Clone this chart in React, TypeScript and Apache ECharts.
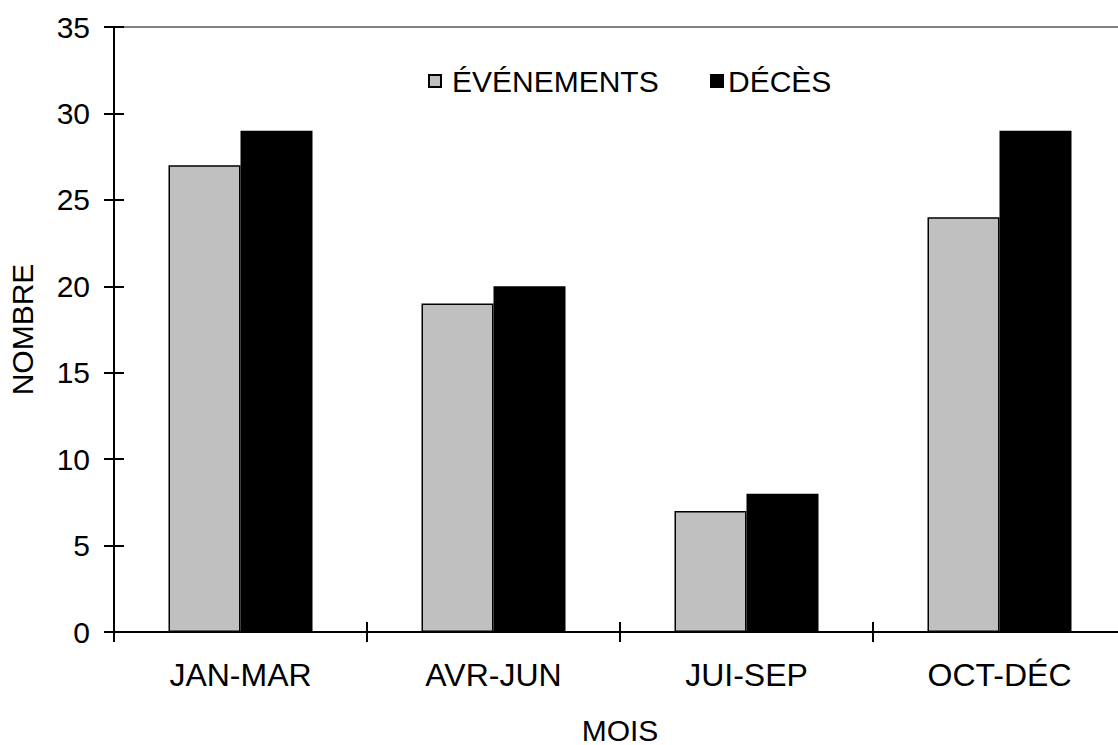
import React, { useEffect, useRef } from "react";
import * as echarts from "echarts";

const categories = ["JAN-MAR", "AVR-JUN", "JUI-SEP", "OCT-DÉC"];
const evenements = [27, 19, 7, 24];
const deces = [29, 20, 8, 29];
const seriesNames = ["ÉVÉNEMENTS", "DÉCÈS"];
const yMin = 0;
const yMax = 35;
const yStep = 5;

const FONT = "'Liberation Sans', Arial, sans-serif";

export default function App() {
  const ref = useRef<HTMLDivElement>(null);
  useEffect(() => {
    document.documentElement.style.overflow = "hidden";
    document.body.style.overflow = "hidden";
    document.body.style.margin = "0";
    if (!ref.current) return;
    const chart = echarts.init(ref.current, null, { renderer: "svg" });
    const axisLine = { show: true, lineStyle: { color: "#000", width: 2 } };
    const text = { color: "#000", fontFamily: FONT, fontSize: 30 };
    chart.setOption({
      animation: false,
      backgroundColor: "#fff",
      textStyle: { fontFamily: FONT },
      grid: {
        left: 114,
        width: 1012,
        top: 27,
        height: 605,
        containLabel: false,
        outerBoundsMode: "none",
      },
      legend: [
        {
          data: [seriesNames[0]],
          left: 423,
          top: 61,
          icon: "rect",
          itemWidth: 12,
          itemHeight: 12,
          textStyle: { ...text, padding: [0, 0, 0, 6] },
        },
        {
          data: [seriesNames[1]],
          left: 705,
          top: 61,
          icon: "rect",
          itemWidth: 12,
          itemHeight: 12,
          textStyle: { ...text, padding: [0, 0, 0, 0] },
        },
      ],
      xAxis: [
        {
          type: "category",
          data: categories,
          position: "bottom",
          axisLine,
          axisTick: { show: true, length: 10, inside: false, lineStyle: { color: "#000", width: 2 } },
          axisLabel: { ...text, fontSize: 32, margin: 27 },
          name: "MOIS",
          nameLocation: "middle",
          nameGap: 85,
          nameTextStyle: { ...text, lineHeight: 26 },
        },
        {
          type: "category",
          data: categories,
          position: "bottom",
          axisLine: { show: false },
          axisTick: { show: true, length: 10, inside: true, lineStyle: { color: "#000", width: 2 } },
          axisLabel: { show: false },
        },
        {
          type: "category",
          data: categories,
          position: "top",
          axisLine: { show: true, lineStyle: { color: "#808080", width: 2 } },
          axisTick: { show: false },
          axisLabel: { show: false },
        },
      ],
      yAxis: [
        {
          type: "value",
          min: yMin,
          max: yMax,
          interval: yStep,
          position: "left",
          axisLine,
          axisTick: { show: true, length: 10, inside: false, lineStyle: { color: "#000", width: 2 } },
          axisLabel: { ...text, margin: 24 },
          splitLine: { show: false },
          name: "NOMBRE",
          nameLocation: "middle",
          nameRotate: 90,
          nameGap: 77,
          nameTextStyle: text,
        },
        {
          type: "value",
          min: yMin,
          max: yMax,
          interval: yStep,
          position: "left",
          axisLine: { show: false },
          axisTick: { show: true, length: 10, inside: true, lineStyle: { color: "#000", width: 2 } },
          axisLabel: { show: false },
          splitLine: { show: false },
        },
      ],
      series: [
        {
          name: seriesNames[0],
          type: "bar",
          data: evenements,
          barWidth: 72,
          barGap: "0%",
          itemStyle: { color: "#c0c0c0", borderColor: "#000", borderWidth: 1.5 },
        },
        {
          name: seriesNames[1],
          type: "bar",
          data: deces,
          barWidth: 72,
          barGap: "0%",
          itemStyle: { color: "#000", borderColor: "#000", borderWidth: 1.5 },
        },
      ],
    });
    return () => chart.dispose();
  }, []);
  return (
    <div
      ref={ref}
      style={{ position: "fixed", left: 0, top: 0, width: 1118, height: 745, overflow: "hidden" }}
    />
  );
}
